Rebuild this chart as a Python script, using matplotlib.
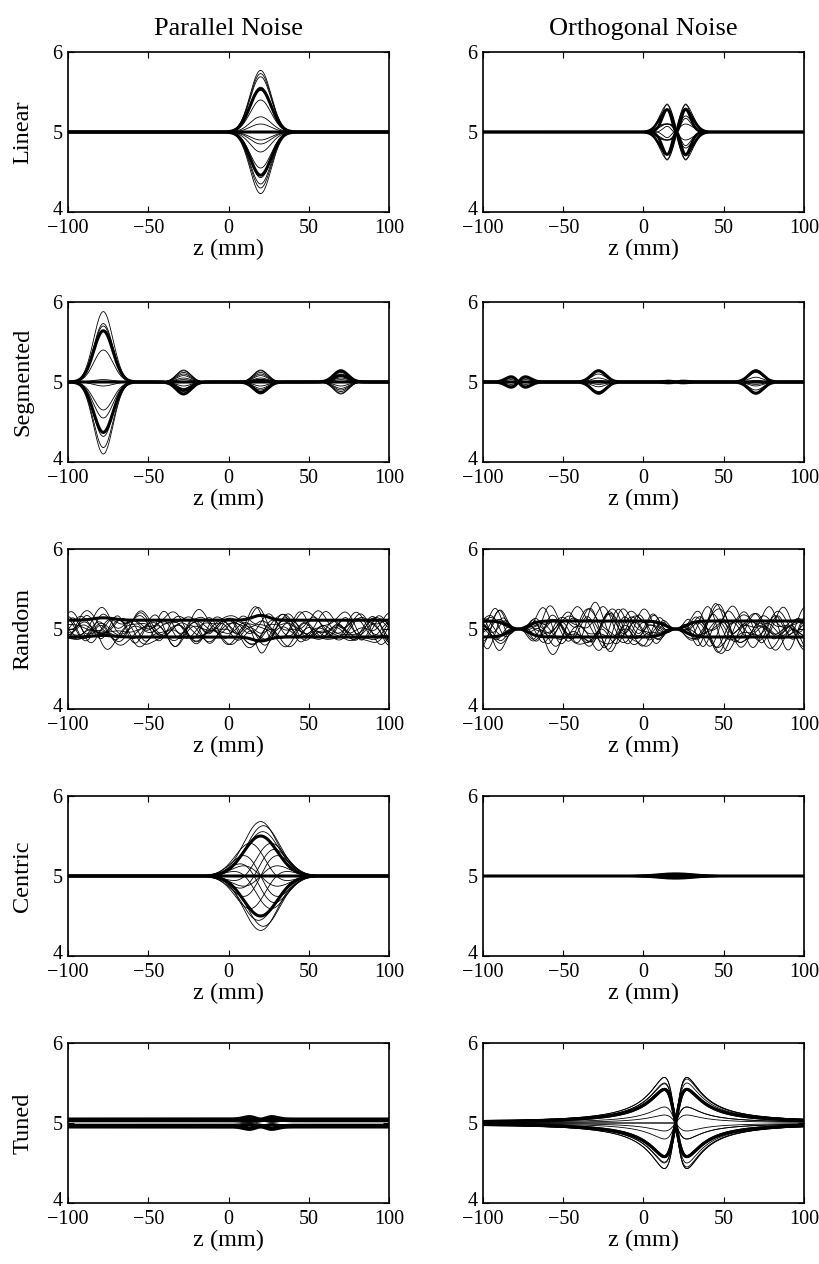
import numpy as np
import matplotlib
matplotlib.use('Agg')
import matplotlib.pyplot as plt
from matplotlib.transforms import offset_copy

plt.rcParams['font.family'] = ['Liberation Serif', 'DejaVu Serif']
plt.rcParams['axes.linewidth'] = 1.2

# ---------------------------------------------------------
# Data
# ---------------------------------------------------------
col_titles = ['Parallel Noise', 'Orthogonal Noise']
row_labels = ['Linear', 'Segmented', 'Random', 'Centric', 'Tuned']
x_ticks = [-100, -50, 0, 50, 100]
y_ticks = [4, 5, 6]
baseline = 5.0

# Linear / parallel: single bump at z = 20
lin_par_center, lin_par_width = 20, 6.5
lin_par_amp = [0.77, 0.73, 0.69, 0.56, 0.52, 0.40, 0.19, 0.10, -0.10,
               -0.15, -0.25, -0.45, -0.57, -0.65, -0.70, -0.77]
lin_par_thick = [0.54, -0.54, 0.0]

# Linear / orthogonal: two lobes at z = 15 and 26 (odd, even parts)
lin_orth_center, lin_orth_width = 20.5, 5.8
lin_orth_odd = [0.34, -0.34, 0.0, 0.0, 0.15, -0.15, 0.05, -0.05, 0.10, -0.10, 0.20, -0.20]
lin_orth_even = [0.0, 0.0, 0.35, -0.35, 0.05, -0.05, 0.12, -0.12, 0.0, 0.0, 0.10, -0.10]
lin_orth_thick_odd = [0.28, -0.28, 0.0, 0.0]
lin_orth_thick_even = [0.0, 0.0, 0.28, -0.28]

# Segmented: bumps at four positions
seg_centers = [-78, -28, 20, 70]
seg_widths = [6.0, 4.5, 4.5, 4.5]
seg_par_amp = [
    [0.88, 0.15, -0.10, 0.05],
    [0.73, -0.12, 0.14, -0.15],
    [0.70, 0.05, 0.05, 0.12],
    [0.40, 0.10, 0.08, -0.10],
    [0.03, -0.05, 0.15, 0.15],
    [-0.05, 0.12, -0.05, -0.05],
    [-0.35, -0.08, 0.10, 0.10],
    [-0.45, 0.14, -0.14, -0.12],
    [-0.68, 0.08, -0.08, -0.14],
    [-0.82, -0.14, 0.12, 0.03],
    [-0.90, 0.03, -0.15, -0.08],
]
seg_par_thick = [
    [0.64, -0.15, -0.13, 0.08],
    [-0.63, -0.10, 0.02, 0.14],
]
# orthogonal: two-lobe shapes at -78 and 20, single bumps at -28 and 70
seg_orth_amp = [
    [0.07, 0.15, 0.010, -0.15],
    [-0.07, -0.15, -0.010, 0.15],
    [0.05, 0.10, 0.005, 0.12],
    [-0.05, -0.12, -0.005, -0.10],
    [0.03, 0.05, 0.010, 0.06],
    [-0.03, -0.06, -0.010, -0.05],
    [0.06, -0.03, 0.005, 0.02],
    [-0.06, 0.02, -0.005, -0.03],
]
seg_orth_thick = [
    [0.065, 0.14, 0.01, 0.14],
    [-0.065, -0.14, -0.01, -0.14],
]

# Random: sums of three waves (periods shared, amplitude/phase per curve)
rand_periods = [44, 28, 19]
rand_par_amp = [
    [0.09, 0.07, 0.05], [0.06, 0.10, 0.04], [0.11, 0.05, 0.06], [0.07, 0.08, 0.07],
    [0.10, 0.06, 0.04], [0.05, 0.09, 0.08], [0.08, 0.04, 0.09], [0.12, 0.07, 0.03],
    [0.06, 0.11, 0.05], [0.09, 0.05, 0.07], [0.07, 0.07, 0.06], [0.10, 0.09, 0.04],
    [0.05, 0.06, 0.10], [0.08, 0.10, 0.05],
]
rand_par_phase = [
    [0.0, 1.1, 2.3], [1.5, 0.4, 3.0], [2.8, 2.0, 0.7], [4.0, 5.1, 1.9],
    [5.2, 3.3, 4.4], [0.7, 4.6, 5.5], [3.4, 0.2, 2.9], [1.0, 2.7, 6.0],
    [2.2, 5.8, 3.6], [4.7, 1.6, 0.3], [5.9, 3.9, 4.9], [3.0, 0.9, 1.4],
    [0.2, 4.2, 2.5], [2.5, 2.4, 5.1],
]
rand_par_offset = [0.03, -0.04, 0.0, 0.05, -0.05, 0.02, -0.02, 0.04,
                   -0.03, 0.06, -0.06, 0.01, 0.03, -0.02]
rand_par_seg = [                         # extra bumps at -78 and 20
    [0.05, -0.33], [-0.04, 0.10], [0.06, -0.08], [-0.03, 0.12],
    [0.04, -0.12], [-0.06, 0.06], [0.02, -0.05], [-0.05, 0.08],
    [0.03, 0.04], [-0.02, -0.10], [0.06, 0.03], [-0.04, -0.06],
    [0.05, 0.09], [-0.03, -0.04],
]
rand_par_thick_level = [0.11, -0.10]
rand_par_thick_bump = [[0.03, 0.06], [0.02, -0.05]]   # bumps at -78 and 20

rand_orth_amp = [
    [0.10, 0.12, 0.08], [0.14, 0.07, 0.09], [0.08, 0.13, 0.11], [0.13, 0.09, 0.07],
    [0.09, 0.08, 0.13], [0.12, 0.14, 0.05], [0.07, 0.10, 0.10], [0.15, 0.08, 0.08],
    [0.09, 0.13, 0.09], [0.13, 0.05, 0.11], [0.08, 0.12, 0.07], [0.12, 0.09, 0.10],
    [0.10, 0.07, 0.14], [0.14, 0.10, 0.05],
]
rand_orth_phase = [
    [0.4, 2.1, 1.3], [2.0, 0.9, 4.0], [3.3, 3.5, 0.2], [4.6, 5.6, 2.9],
    [5.7, 1.8, 5.4], [1.2, 4.1, 3.5], [3.9, 0.7, 1.9], [1.6, 3.2, 5.0],
    [2.7, 5.3, 0.6], [5.2, 2.6, 3.3], [0.3, 4.9, 4.4], [3.5, 1.4, 2.4],
    [0.9, 3.7, 5.8], [4.3, 0.1, 1.1],
]
rand_orth_offset = [0.03, -0.02, 0.01, -0.04, 0.04, 0.0, -0.03, 0.02,
                    -0.01, 0.05, -0.05, 0.01, 0.03, -0.02]
rand_orth_pinch = [-78, 20]
rand_orth_thick_level = [0.10, -0.10]

# Centric: bump at 20 carrying a tilt
cen_center, cen_width = 20, 10.5
cen_a = [0.68, -0.68, 0.62, -0.62, 0.30, -0.30, 0.30, -0.30, 0.0, 0.0, 0.0, 0.0, 0.55, -0.55, 0.15, -0.15]
cen_b = [0.0, 0.0, 0.15, -0.15, 0.45, 0.45, -0.45, -0.45, 0.6, -0.6, 0.3, -0.3, 0.1, 0.1, 0.55, -0.55]
cen_thick = [0.50, -0.50]
cen_orth_amp = [0.035, -0.035, 0.025, -0.025, 0.015, -0.015]

# Tuned
tun_par_offset = [0.05, 0.04, 0.03, -0.03, -0.04, -0.05]
tun_par_bump = [0.03, -0.02, 0.02, -0.03, 0.02, -0.03]
tun_par_thin = [0.015, -0.015]
tun_center, tun_width = 20, 8.6
tun_odd = [0.57, -0.57, 0.0, 0.0, 0.30, -0.30, 0.20, -0.20, 0.10, -0.10, 0.52, -0.52, 0.0, 0.0]
tun_even = [0.0, 0.0, 0.57, -0.57, 0.20, -0.20, -0.30, 0.30, 0.10, -0.10, 0.03, -0.03, 0.2, -0.2]
tun_thick_odd = [0.42, -0.42, 0.0, 0.0]
tun_thick_even = [0.0, 0.0, 0.42, -0.42]

# ---------------------------------------------------------
# Curve shapes
# ---------------------------------------------------------
z = np.linspace(-100, 100, 1201)


def bump(c, w):
    return np.exp(-0.5 * ((z - c) / w) ** 2)


def two_lobe_odd(c, w):
    u = (z - c) / w
    return u * np.exp(0.5 * (1 - u ** 2))


def two_lobe_even(c, w):
    u = (z - c) / w
    return u ** 2 * np.exp(1 - u ** 2)


def tuned_odd(c, w):
    u = (z - c) / w
    f = u / (1 + u ** 2) ** 1.25
    return f / np.abs(f).max()


THIN, THICK = 0.6, 2.2
fig, axes = plt.subplots(5, 2, figsize=(8.2, 12.64), dpi=100)

# Linear
ax = axes[0, 0]
for a in lin_par_amp:
    ax.plot(z, baseline + a * bump(lin_par_center, lin_par_width), 'k', lw=THIN)
for a in lin_par_thick:
    ax.plot(z, baseline + a * bump(lin_par_center, lin_par_width), 'k', lw=THICK)
ax = axes[0, 1]
for a, b in zip(lin_orth_odd, lin_orth_even):
    ax.plot(z, baseline + a * two_lobe_odd(lin_orth_center, lin_orth_width)
            + b * two_lobe_even(lin_orth_center, lin_orth_width), 'k', lw=THIN)
for a, b in zip(lin_orth_thick_odd, lin_orth_thick_even):
    ax.plot(z, baseline + a * two_lobe_odd(lin_orth_center, lin_orth_width)
            + b * two_lobe_even(lin_orth_center, lin_orth_width), 'k', lw=1.8)

# Segmented
ax = axes[1, 0]
for rows, lw in [(seg_par_amp, THIN), (seg_par_thick, THICK)]:
    for amps in rows:
        y = baseline + sum(a * bump(c, w) for a, c, w in zip(amps, seg_centers, seg_widths))
        ax.plot(z, y, 'k', lw=lw)
ax.plot(z, np.full_like(z, baseline), 'k', lw=THICK)
ax = axes[1, 1]
for rows, lw in [(seg_orth_amp, THIN), (seg_orth_thick, THICK)]:
    for amps in rows:
        y = (baseline + amps[0] * two_lobe_odd(seg_centers[0], 4.5)
             + amps[1] * bump(seg_centers[1], seg_widths[1])
             + amps[2] * two_lobe_odd(seg_centers[2], 4.5)
             + amps[3] * bump(seg_centers[3], seg_widths[3]))
        ax.plot(z, y, 'k', lw=lw)
ax.plot(z, np.full_like(z, baseline), 'k', lw=THICK)

# Random
ax = axes[2, 0]
for amps, phases, off, (s1, s2) in zip(rand_par_amp, rand_par_phase,
                                       rand_par_offset, rand_par_seg):
    y = baseline + off + sum(a * np.sin(2 * np.pi * z / p + ph)
                             for a, p, ph in zip(amps, rand_periods, phases))
    y = y + s1 * bump(-78, 5) + s2 * bump(20, 4)
    ax.plot(z, y, 'k', lw=THIN)
for lev, (b1, b2) in zip(rand_par_thick_level, rand_par_thick_bump):
    y = baseline + lev + b1 * bump(-78, 6) + b2 * bump(20, 5)
    ax.plot(z, y, 'k', lw=THICK)
ax = axes[2, 1]
pinch = np.ones_like(z)
for c in rand_orth_pinch:
    pinch = pinch * (1 - bump(c, 6))
for amps, phases, off in zip(rand_orth_amp, rand_orth_phase, rand_orth_offset):
    y = off + sum(a * np.sin(2 * np.pi * z / p + ph)
                  for a, p, ph in zip(amps, rand_periods, phases))
    ax.plot(z, baseline + y * pinch, 'k', lw=THIN)
for lev in rand_orth_thick_level:
    ax.plot(z, baseline + lev * pinch, 'k', lw=THICK)

# Centric
ax = axes[3, 0]
env = bump(cen_center, cen_width)
for a, b in zip(cen_a, cen_b):
    ax.plot(z, baseline + env * (a + b * (z - cen_center) / 15), 'k', lw=THIN)
for a in cen_thick:
    ax.plot(z, baseline + env * a, 'k', lw=THICK)
ax.plot(z, np.full_like(z, baseline), 'k', lw=THICK)
ax = axes[3, 1]
for a in cen_orth_amp:
    ax.plot(z, baseline + a * bump(cen_center, 12), 'k', lw=1.2)
ax.plot(z, np.full_like(z, baseline), 'k', lw=THICK)

# Tuned
ax = axes[4, 0]
for off, b in zip(tun_par_offset, tun_par_bump):
    ax.plot(z, baseline + off + b * two_lobe_even(tun_center, 7), 'k', lw=THICK)
for off in tun_par_thin:
    ax.plot(z, baseline + off + off * two_lobe_odd(tun_center, 6), 'k', lw=THIN)
ax = axes[4, 1]
f_odd = tuned_odd(tun_center, tun_width)
f_even = np.abs(f_odd)
for a, b in zip(tun_odd, tun_even):
    ax.plot(z, baseline + a * f_odd + b * f_even, 'k', lw=THIN)
for a, b in zip(tun_thick_odd, tun_thick_even):
    ax.plot(z, baseline + a * f_odd + b * f_even, 'k', lw=THICK)

# ---------------------------------------------------------
# Layout and styling
# ---------------------------------------------------------
W, H = 820, 1264
col_left = [68, 483]
col_width = 321
row_top = [52, 302, 549, 796, 1043]
row_height = 160

for r in range(5):
    for c in range(2):
        ax = axes[r, c]
        ax.set_position([col_left[c] / W, 1 - (row_top[r] + row_height) / H,
                         col_width / W, row_height / H])
        ax.set_xlim(-100, 100)
        ax.set_ylim(4, 6)
        ax.set_xticks(x_ticks)
        ax.set_yticks(y_ticks)
        ax.tick_params(direction='in', top=True, right=True, length=4,
                       width=0.8, labelsize=14.5)
        ax.tick_params(axis='x', pad=5)
        ax.tick_params(axis='y', pad=4)
        ax.set_xlabel('z (mm)', fontsize=17.5, labelpad=1)
        if c == 0:
            ax.set_ylabel(row_labels[r], fontsize=17.5)
            ax.yaxis.set_label_coords(-0.108, 0.5)
        if r == 0:
            ax.set_title(col_titles[c], fontsize=19, pad=12)

fig.canvas.draw()
# lift the bottom "4" a little so it sits just above "-100"
for ax in axes.flat:
    lab = ax.get_yticklabels()[0]
    lab.set_transform(offset_copy(lab.get_transform(), fig=fig, x=0, y=4, units='dots'))

fig.savefig('out.png', dpi=100)
